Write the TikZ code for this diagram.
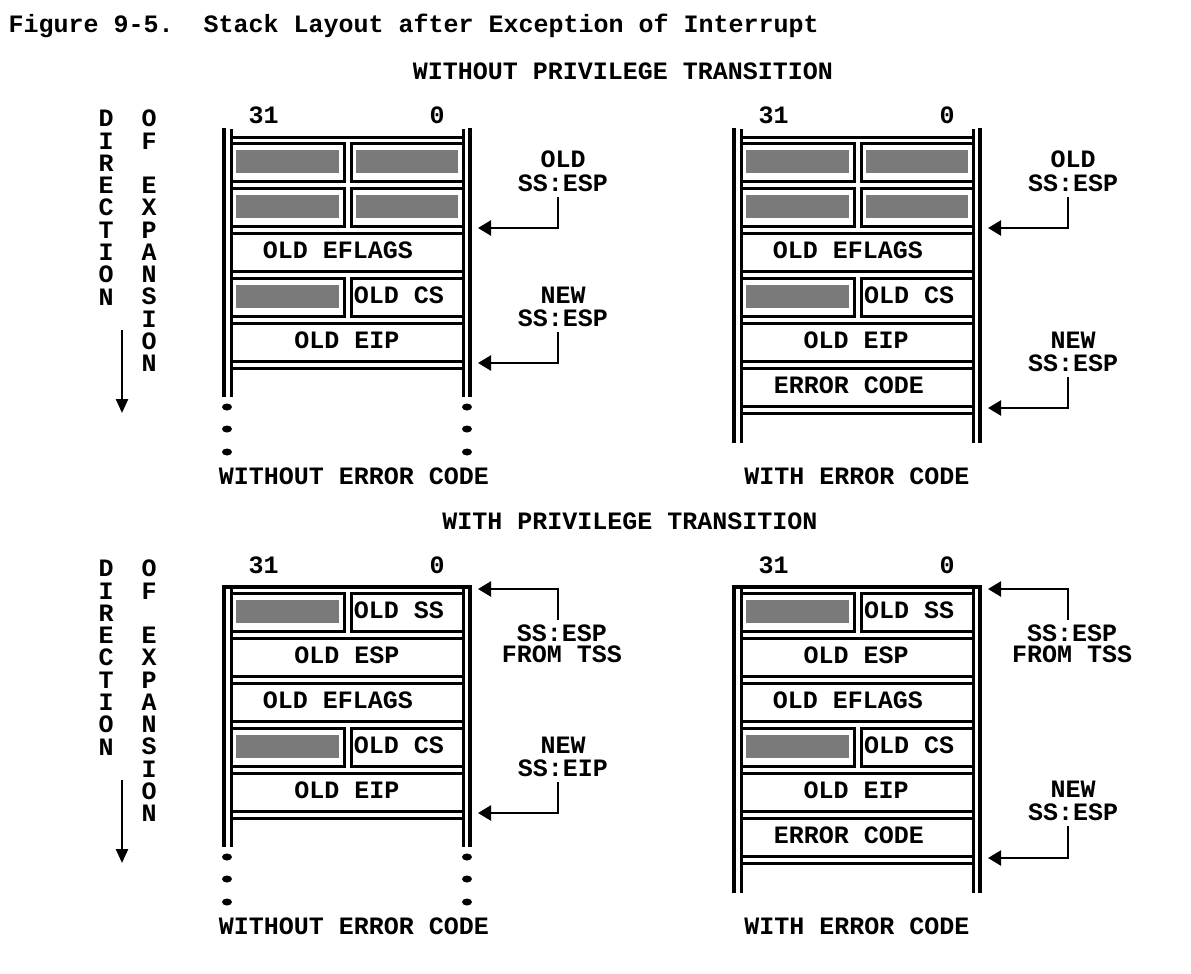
\documentclass[tikz,border=0pt]{standalone}
\usepackage{fontspec}
\newfontfamily\mono{Liberation Mono}
\usetikzlibrary{arrows.meta}
\tikzset{
  wall/.style={line width=3.3pt},
  cb/.style={line width=3pt},
  shade/.style={fill=black!52},
  lbl/.style={font=\mono\bfseries\fontsize{25}{25}\selectfont, inner sep=0pt, anchor=base},
  lblm/.style={font=\mono\bfseries\fontsize{25}{#1}\selectfont, inner sep=0pt, anchor=south, align=center},
  arr/.style={line width=2.3pt, -{Triangle[length=13pt,width=15pt]}},
  darr/.style={line width=2.4pt, -{Triangle[length=14pt,width=12pt]}},
  dot/.style={fill=black},
}
% #1 xoff, #2 top, #3 text centre x, #4 text, #5 name
\newcommand\FullCell[5]{%
  \draw[cb] ({231+#1},{#2}) rectangle ({463+#1},{#2+38});
  \node[lbl] (#5) at ({#3+#1},{#2+25}) {#4};}
\newcommand\ShadeL[2]{%
  \draw[cb] ({231+#1},{#2}) rectangle ({344+#1},{#2+38});
  \fill[shade] ({236+#1},{#2+7}) rectangle ({339+#1},{#2+30});}
\newcommand\ShadeR[2]{%
  \draw[cb] ({351+#1},{#2}) rectangle ({463+#1},{#2+38});
  \fill[shade] ({356+#1},{#2+7}) rectangle ({458+#1},{#2+30});}
\newcommand\TextR[4]{%
  \draw[cb] ({351+#1},{#2}) rectangle ({463+#1},{#2+38});
  \node[lbl] (#4) at ({399+#1},{#2+25}) {#3};}
% open-top walls (upper stacks): #1 xoff, #2 bottom
\newcommand\OpenWalls[2]{%
  \draw[wall] ({224+#1},128) -- ({224+#1},#2);
  \draw[wall] ({470+#1},128) -- ({470+#1},#2);
  \draw[cb] ({231+#1},129) -- ({231+#1},#2);
  \draw[cb] ({463+#1},129) -- ({463+#1},#2);
  \draw[cb] ({231+#1},137) -- ({463+#1},137);}
% closed-top walls (lower stacks)
\newcommand\ClosedWalls[2]{%
  \draw[wall] ({224+#1},#2) -- ({224+#1},587) -- ({470+#1},587) -- ({470+#1},#2);
  \draw[cb] ({231+#1},587) -- ({231+#1},#2);
  \draw[cb] ({463+#1},587) -- ({463+#1},#2);}
\newcommand\Dots[1]{%
  \foreach \yy in {0,22,45}{
    \fill[dot] (227,{#1+\yy}) ellipse [x radius=5pt, y radius=3.5pt];
    \fill[dot] (467,{#1+\yy}) ellipse [x radius=5pt, y radius=3.5pt];}}
\begin{document}
\begin{tikzpicture}[x=1pt,y=-1pt]
\fill[white] (0,0) rectangle (1191,974);
\useasboundingbox (0,0) rectangle (1191,974);

% title and headings
\node[lbl, anchor=base west] (title) at (8.5,33) {Figure 9-5.\ \ Stack Layout after Exception of Interrupt};
\node[lbl] (h1) at (623,79) {WITHOUT PRIVILEGE TRANSITION};
\node[lbl] (h2) at (630,529) {WITH PRIVILEGE TRANSITION};

% direction of expansion (two copies)
\foreach \yo/\sfx in {0/a,450/b}{
  \node[lblm=22.27] (dir\sfx) at (106,{305.2+\yo}) {D\\I\\R\\E\\C\\T\\I\\O\\N};
  \node[lblm=22.27] (exp\sfx) at (149,{372+\yo}) {O\\F\\~\\E\\X\\P\\A\\N\\S\\I\\O\\N};
  \coordinate (ds\sfx) at (122,{330+\yo});
  \coordinate (de\sfx) at (122,{413+\yo});
  \draw[darr] (ds\sfx) -- (de\sfx);
}

% ===== upper left: without privilege, without error code
\node[lbl] (b31a) at (263.5,123) {31};
\node[lbl] (b0a) at (437,123) {0};
\OpenWalls{0}{397}
\ShadeL{0}{143}\ShadeR{0}{143}
\ShadeL{0}{188}\ShadeR{0}{188}
\FullCell{0}{233}{338}{OLD EFLAGS}{ulef}
\ShadeL{0}{278}\TextR{0}{278}{OLD CS}{ulcs}
\FullCell{0}{323}{347}{OLD EIP}{uleip}
\draw[cb] (231,368) -- (463,368);
\Dots{407}
\node[lbl] (cap1) at (354,484) {WITHOUT ERROR CODE};

\node[lblm=24] (ul1) at (563,192) {OLD\\SS:ESP};
\coordinate (ul1t) at (478,228);
\draw[arr] ([xshift=-5pt,yshift=-5pt]ul1.south) |- (ul1t);
\node[lblm=23] (ul2) at (563,327) {NEW\\SS:ESP};
\coordinate (ul2t) at (478,363);
\draw[arr] ([xshift=-5pt,yshift=-5pt]ul2.south) |- (ul2t);

% ===== upper right: without privilege, with error code
\node[lbl] (b31b) at (773.5,123) {31};
\node[lbl] (b0b) at (947,123) {0};
\OpenWalls{510}{443}
\ShadeL{510}{143}\ShadeR{510}{143}
\ShadeL{510}{188}\ShadeR{510}{188}
\FullCell{510}{233}{338}{OLD EFLAGS}{uref}
\ShadeL{510}{278}\TextR{510}{278}{OLD CS}{urcs}
\FullCell{510}{323}{346}{OLD EIP}{ureip}
\FullCell{510}{368}{339}{ERROR CODE}{urerr}
\draw[cb] (741,413) -- (973,413);
\node[lbl] (cap2) at (857,484) {WITH ERROR CODE};

\node[lblm=24] (ur1) at (1073,192) {OLD\\SS:ESP};
\coordinate (ur1t) at (988,228);
\draw[arr] ([xshift=-5pt,yshift=-5pt]ur1.south) |- (ur1t);
\node[lblm=23] (ur2) at (1073,372) {NEW\\SS:ESP};
\coordinate (ur2t) at (988,408);
\draw[arr] ([xshift=-5pt,yshift=-5pt]ur2.south) |- (ur2t);

% ===== lower left: with privilege, without error code
\node[lbl] (b31c) at (263.5,573) {31};
\node[lbl] (b0c) at (437,573) {0};
\ClosedWalls{0}{847}
\ShadeL{0}{593}\TextR{0}{593}{OLD SS}{llss}
\FullCell{0}{638}{347}{OLD ESP}{llesp}
\FullCell{0}{683}{338}{OLD EFLAGS}{llef}
\ShadeL{0}{728}\TextR{0}{728}{OLD CS}{llcs}
\FullCell{0}{773}{347}{OLD EIP}{lleip}
\draw[cb] (231,818) -- (463,818);
\Dots{857}
\node[lbl] (cap3) at (354,934) {WITHOUT ERROR CODE};

\node[lblm=21] (ll1) at (562,663) {SS:ESP\\FROM TSS};
\coordinate (ll1t) at (478,589);
\draw[arr] ([xshift=-4pt,yshift=5pt]ll1.north) |- (ll1t);
\node[lblm=23] (ll2) at (563,777) {NEW\\SS:EIP};
\coordinate (ll2t) at (478,813);
\draw[arr] ([xshift=-5pt,yshift=-5pt]ll2.south) |- (ll2t);

% ===== lower right: with privilege, with error code
\node[lbl] (b31d) at (773.5,573) {31};
\node[lbl] (b0d) at (947,573) {0};
\ClosedWalls{510}{893}
\ShadeL{510}{593}\TextR{510}{593}{OLD SS}{lrss}
\FullCell{510}{638}{346}{OLD ESP}{lresp}
\FullCell{510}{683}{338}{OLD EFLAGS}{lref}
\ShadeL{510}{728}\TextR{510}{728}{OLD CS}{lrcs}
\FullCell{510}{773}{346}{OLD EIP}{lreip}
\FullCell{510}{818}{339}{ERROR CODE}{lrerr}
\draw[cb] (741,863) -- (973,863);
\node[lbl] (cap4) at (857,934) {WITH ERROR CODE};

\node[lblm=21] (lr1) at (1072,663) {SS:ESP\\FROM TSS};
\coordinate (lr1t) at (988,589);
\draw[arr] ([xshift=-4pt,yshift=5pt]lr1.north) |- (lr1t);
\node[lblm=23] (lr2) at (1073,821) {NEW\\SS:ESP};
\coordinate (lr2t) at (988,858);
\draw[arr] ([xshift=-5pt,yshift=-5pt]lr2.south) |- (lr2t);
\end{tikzpicture}
\end{document}
